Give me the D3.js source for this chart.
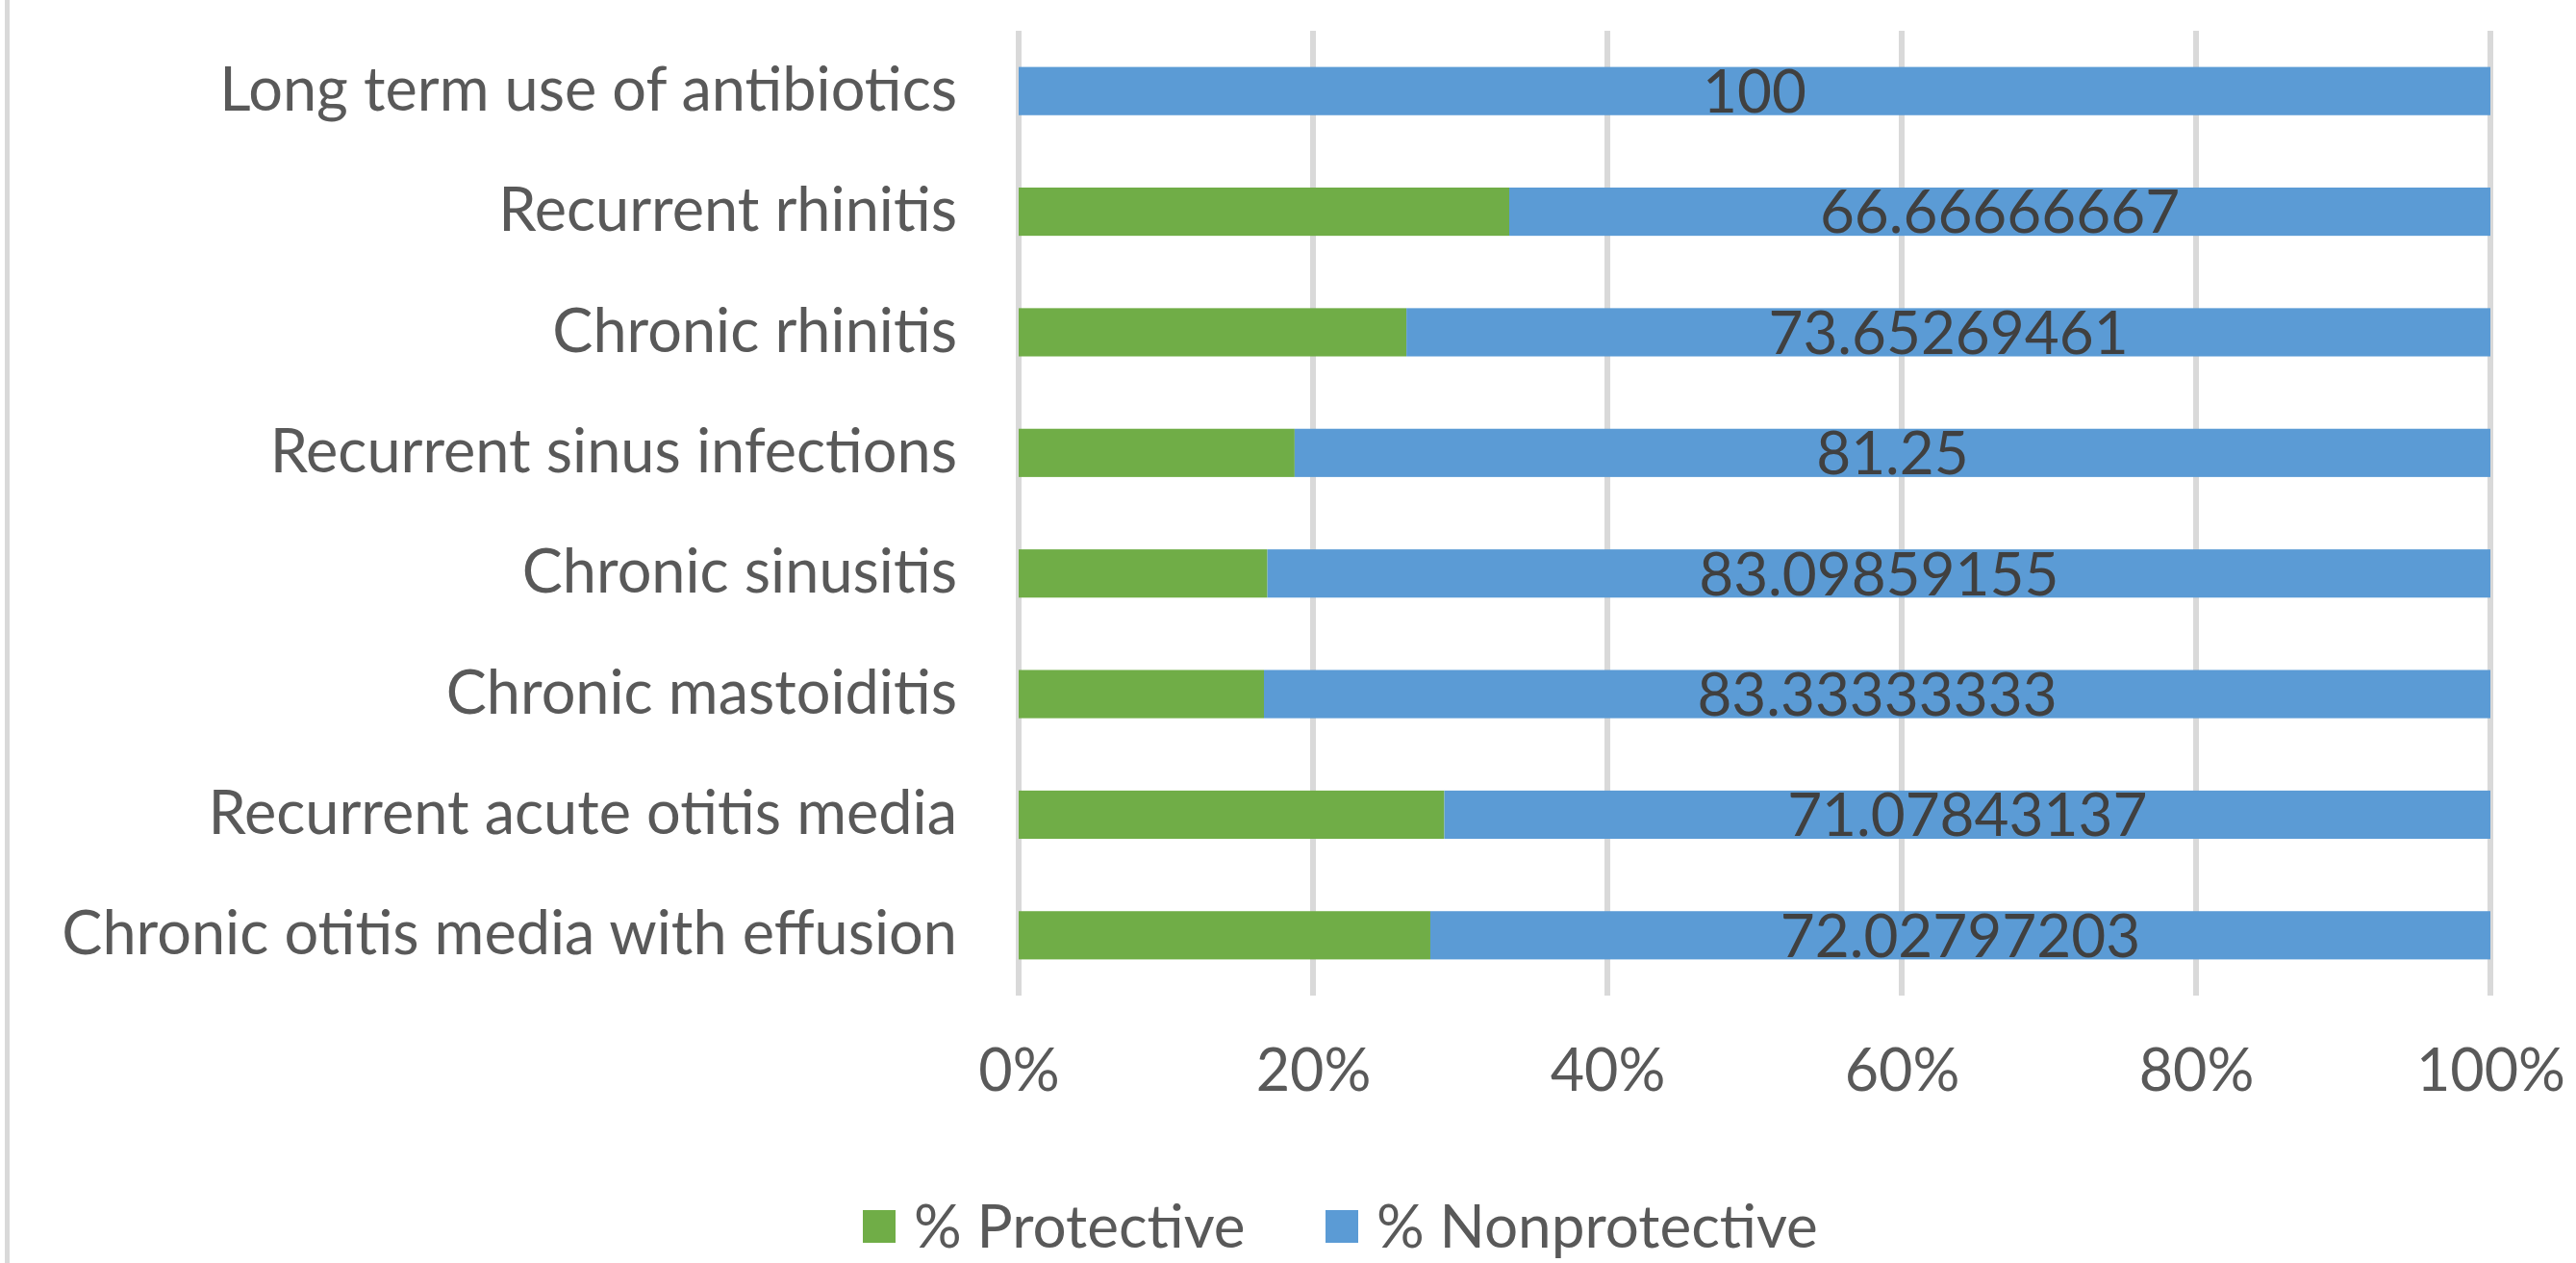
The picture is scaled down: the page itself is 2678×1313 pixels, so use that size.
<!DOCTYPE html>
<html lang="en">
<head>
  <meta charset="UTF-8">
  <title>Protective vs Nonprotective</title>
  <script src="https://d3js.org/d3.v7.min.js"></script>
  <style>
    body {
      margin: 0;
      padding: 0;
      background: #fff;
    }
    svg text {
      font-family: Lato, "Open Sans", sans-serif;
      font-variant-numeric: tabular-nums;
    }
  </style>
</head>
<body>
  <div id="chart"></div>

  <script>
  // data, top row first
  const categories = [
    "Long term use of antibiotics",
    "Recurrent rhinitis",
    "Chronic rhinitis",
    "Recurrent sinus infections",
    "Chronic sinusitis",
    "Chronic mastoiditis",
    "Recurrent acute otitis media",
    "Chronic otitis media with effusion"
  ];
  const protective = [0, 33.33333333, 26.34730539, 18.75, 16.90140845, 16.66666667, 28.92156863, 27.97202797];
  const nonprotective = [100, 66.66666667, 73.65269461, 81.25, 83.09859155, 83.33333333, 71.07843137, 72.02797203];
  const xTicks = [0, 20, 40, 60, 80, 100];
  const seriesNames = ["% Protective", "% Nonprotective"];
  const colors = ["#70ad47", "#5b9bd5"];

  const width = 2678, height = 1313;
  const margin = { top: 32, left: 1059, right: 89, bottom: 278 };

  const svg = d3.select("#chart").append("svg")
    .attr("width", width)
    .attr("height", height);

  // left edge of the chart frame
  svg.append("line")
    .attr("x1", 7.5).attr("x2", 7.5)
    .attr("y1", 0).attr("y2", height)
    .attr("stroke", "#d9d9d9")
    .attr("stroke-width", 5);

  const x = d3.scaleLinear()
    .domain([0, 100])
    .range([margin.left, width - margin.right]);

  const y = d3.scaleBand()
    .domain(categories)
    .range([margin.top, height - margin.bottom])
    .paddingInner(0.6)
    .paddingOuter(0.3);

  // gridlines
  svg.append("g")
    .selectAll("line")
    .data(xTicks)
    .enter().append("line")
    .attr("x1", d => x(d)).attr("x2", d => x(d))
    .attr("y1", margin.top).attr("y2", height - margin.bottom)
    .attr("stroke", "#d9d9d9")
    .attr("stroke-width", 6);

  // stacked data
  const rows = categories.map((c, i) => ({ cat: c, p: protective[i], n: nonprotective[i] }));
  const stack = d3.stack().keys(["p", "n"]);
  const layers = stack(rows);

  svg.append("g")
    .selectAll("g")
    .data(layers)
    .enter().append("g")
    .attr("fill", (d, i) => colors[i])
    .selectAll("rect")
    .data(d => d)
    .enter().append("rect")
    .attr("x", d => x(d[0]))
    .attr("width", d => x(d[1]) - x(d[0]))
    .attr("y", d => y(d.data.cat))
    .attr("height", y.bandwidth());

  // value labels on the nonprotective part
  svg.append("g")
    .selectAll("text")
    .data(layers[1])
    .enter().append("text")
    .attr("x", d => (x(d[0]) + x(d[1])) / 2)
    .attr("y", d => y(d.data.cat) + y.bandwidth() / 2)
    .attr("dy", "0.36em")
    .attr("text-anchor", "middle")
    .attr("fill", "#404040")
    .style("font-size", "62px")
    .text(d => String(+d.data.n.toPrecision(10)));

  // category axis
  const yAxis = svg.append("g")
    .attr("transform", `translate(${margin.left - 64},0)`)
    .call(d3.axisLeft(y).tickSize(0).tickPadding(0));
  yAxis.select(".domain").remove();
  yAxis.selectAll("text")
    .attr("fill", "#595959")
    .style("font-size", "63px");

  // percent axis
  const xAxis = svg.append("g")
    .attr("transform", `translate(0,${height - margin.bottom + 56})`)
    .call(d3.axisBottom(x).tickValues(xTicks).tickFormat(d => d + "%").tickSize(0).tickPadding(0));
  xAxis.select(".domain").remove();
  xAxis.selectAll("text")
    .attr("fill", "#595959")
    .style("font-size", "61px");

  // legend
  const legend = svg.append("g").attr("transform", "translate(897,1258)");
  const legendX = [0, 481];
  seriesNames.forEach((name, i) => {
    const g = legend.append("g").attr("transform", `translate(${legendX[i]},0)`);
    g.append("rect")
      .attr("width", 34).attr("height", 34)
      .attr("fill", colors[i]);
    g.append("text")
      .attr("x", 53)
      .attr("y", 17)
      .attr("dy", "0.36em")
      .attr("fill", "#595959")
      .style("font-size", "62px")
      .text(name);
  });
  </script>
</body>
</html>
